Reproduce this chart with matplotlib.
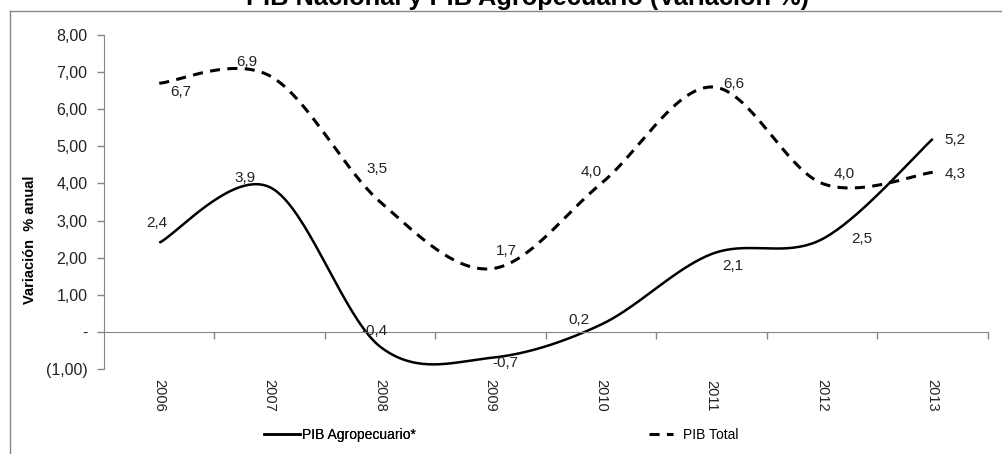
import numpy as np
import matplotlib
matplotlib.use("Agg")
import matplotlib.pyplot as plt
from matplotlib.lines import Line2D

plt.rcParams['font.family'] = ['Liberation Sans', 'DejaVu Sans']

# Datos
anios = ['2006', '2007', '2008', '2009', '2010', '2011', '2012', '2013']
pib_agro = [2.4, 3.9, -0.4, -0.7, 0.2, 2.1, 2.5, 5.2]
pib_total = [6.7, 6.9, 3.5, 1.7, 4.0, 6.6, 4.0, 4.3]
yticks = [-1, 0, 1, 2, 3, 4, 5, 6, 7, 8]
ytick_labels = ['(1,00)', '-', '1,00', '2,00', '3,00', '4,00', '5,00', '6,00', '7,00', '8,00']

# desplazamiento de etiquetas (pixeles)
off_agro = [(-2, 20), (-25, 9), (-6, 16), (15, -5), (-22, 4), (21, -12), (40, 0), (22, -1)]
off_total = [(22, -9), (-23, 14), (-3, 33), (16, 18), (-10, 11), (22, 3), (22, 9), (22, -2)]

GRIS = '#868686'


def suavizar(y, n=40):
    # curva suavizada estilo Excel (Catmull-Rom con Bezier)
    x = np.arange(len(y), dtype=float)
    y = np.asarray(y, dtype=float)
    xs, ys = [], []
    for i in range(len(y) - 1):
        i0 = max(i - 1, 0)
        i3 = min(i + 2, len(y) - 1)
        p0 = np.array([x[i], y[i]])
        p3 = np.array([x[i + 1], y[i + 1]])
        c1 = p0 + (p3 - np.array([x[i0], y[i0]])) / 6
        c2 = p3 - (np.array([x[i3], y[i3]]) - p0) / 6
        t = np.linspace(0, 1, n)[:, None]
        b = (1 - t) ** 3 * p0 + 3 * (1 - t) ** 2 * t * c1 + 3 * (1 - t) * t ** 2 * c2 + t ** 3 * p3
        xs.extend(b[:, 0])
        ys.extend(b[:, 1])
    return np.array(xs), np.array(ys)


fig = plt.figure(figsize=(10.03, 4.54), dpi=100)
ax = fig.add_axes([104 / 1003, 85 / 454, 884 / 1003, 334 / 454])

xa, ya = suavizar(pib_agro)
xt, yt = suavizar(pib_total)
ax.plot(xa, ya, color='black', lw=1.8, solid_capstyle='butt')
ax.plot(xt, yt, color='black', lw=2.2, dashes=(3.3, 2.4), dash_capstyle='butt')

x = np.arange(len(anios))
for i in range(len(anios)):
    ax.annotate(f"{pib_agro[i]:.1f}".replace('.', ','), (x[i], pib_agro[i]),
                xytext=off_agro[i], textcoords='offset pixels',
                ha='center', va='center', fontsize=11, color='#222222')
    ax.annotate(f"{pib_total[i]:.1f}".replace('.', ','), (x[i], pib_total[i]),
                xytext=off_total[i], textcoords='offset pixels',
                ha='center', va='center', fontsize=11, color='#222222')

ax.set_xlim(-0.5, len(anios) - 0.5)
ax.set_ylim(-1, 8)

for s in ['top', 'right']:
    ax.spines[s].set_visible(False)
ax.spines['left'].set_color(GRIS)
ax.spines['bottom'].set_color(GRIS)
ax.spines['bottom'].set_position(('data', 0))

ax.set_yticks(yticks)
ax.set_yticklabels(ytick_labels, fontsize=11.5, color='#222222')
ax.tick_params(axis='y', colors=GRIS, length=5, width=1, pad=7, labelcolor='#222222')

ax.set_xticks(np.arange(0.5, len(anios), 1.0))
ax.set_xticklabels([])
ax.tick_params(axis='x', colors=GRIS, length=5, width=1, direction='out')

# etiquetas de años debajo del area
for i, a in enumerate(anios):
    ax.text(i, -0.08, a, transform=ax.get_xaxis_transform(), rotation=270,
            ha='center', va='center', fontsize=10.5, color='#222222')

fig.text(30 / 1003, 1 - 240 / 454, 'Variación  % anual', rotation=90,
         ha='center', va='center', fontsize=10.5, fontweight='bold')

fig.text(527 / 1003, 1 - 5 / 454, 'PIB Nacional y PIB Agropecuario (Variación %)',
         ha='center', va='baseline', fontsize=18.3, fontweight='bold')

# borde del grafico
fig.add_artist(Line2D([10 / 1003, 1.0], [1 - 11 / 454, 1 - 11 / 454], color=GRIS, lw=1))
fig.add_artist(Line2D([10 / 1003, 10 / 1003], [0, 1 - 11 / 454], color=GRIS, lw=1))

# leyenda
fuente_ley = {'family': ['Liberation Sans Narrow', 'Liberation Sans'], 'size': 10}
h1 = Line2D([], [], color='black', lw=1.8)
h2 = Line2D([], [], color='black', lw=2.2, dashes=(3.3, 2.4))
leg1 = fig.legend([h1], ['PIB Agropecuario*'], loc='center left',
                  bbox_to_anchor=(251 / 1003, 1 - 435 / 454), frameon=False,
                  prop=fuente_ley, handlelength=2.66, handletextpad=0.1)
fig.add_artist(leg1)
fig.legend([h2], ['PIB Total'], loc='center left',
           bbox_to_anchor=(636 / 1003, 1 - 435 / 454), frameon=False,
           prop=fuente_ley, handlelength=1.75, handletextpad=0.75)

fig.savefig('out.png', dpi=100)
